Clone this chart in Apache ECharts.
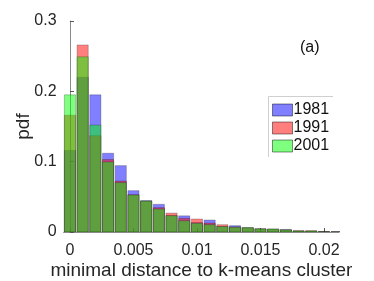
<!DOCTYPE html>
<html>
<head>
<meta charset="utf-8">
<script src="https://cdn.jsdelivr.net/npm/echarts@6/dist/echarts.min.js"></script>
<style>
html,body{margin:0;padding:0;background:#fff;}
#c{width:374px;height:281px;}
</style>
</head>
<body>
<div id="c"></div>
<script>
// bin centres (minimal distance to k-means cluster)
const binCenters = [0,0.001,0.002,0.003,0.004,0.005,0.006,0.007,0.008,0.009,0.010,0.011,0.012,0.013,0.014,0.015,0.016,0.017,0.018,0.019,0.020,0.021];
const pdf1981 = [0.116,0.220,0.195,0.112,0.0944,0.0588,0.0446,0.0394,0.0235,0.0230,0.0135,0.0171,0.0080,0.0090,0.0060,0.0045,0.0040,0.0034,0.0015,0.0012,0.0005,0.0003];
const pdf1991 = [0.166,0.266,0.137,0.103,0.0725,0.0530,0.0440,0.0346,0.0269,0.0195,0.0185,0.0128,0.0104,0.0072,0.0060,0.0045,0.0040,0.0030,0.0018,0.0018,0.0006,0.0003];
const pdf2001 = [0.195,0.249,0.152,0.0996,0.0702,0.0526,0.0440,0.0327,0.0232,0.0160,0.0124,0.0104,0.0078,0.0068,0.0062,0.0045,0.0043,0.0030,0.0015,0.0015,0.0004,0.0002];
const seriesNames = ['1981','1991','2001'];
const xTicks = [0,0.005,0.01,0.015,0.02];
const yTicks = [0,0.1,0.2,0.3];

const colors = ['rgba(0,0,255,0.5)','rgba(255,0,0,0.5)','rgba(0,255,0,0.5)'];
const halfWidth = 0.00044;
const txt = '#262626';
const font = 'Liberation Sans, Arial, Helvetica, sans-serif';

function makeSeries(name, vals, color){
  return {
    name: name,
    type: 'custom',
    clip: true,
    itemStyle: {color: color, borderColor: 'rgba(0,0,0,0.3)', borderWidth: 1},
    data: binCenters.map((x,i)=>[x, vals[i]]),
    renderItem: function(params, api){
      const x = api.value(0), y = api.value(1);
      const p0 = api.coord([x - halfWidth, y]);
      const p1 = api.coord([x + halfWidth, 0]);
      return {
        type: 'rect',
        shape: {x: p0[0], y: p0[1], width: p1[0]-p0[0], height: p1[1]-p0[1]},
        style: {fill: color, stroke: 'rgba(0,0,0,0.22)', lineWidth: 1}
      };
    }
  };
}

const chart = echarts.init(document.getElementById('c'), null, {renderer:'canvas'});
chart.setOption({
  animation: false,
  backgroundColor: '#fff',
  textStyle: {fontFamily: font},
  grid: {left: 63.6, top: 21, width: 275.6, height: 211, containLabel: false, outerBoundsMode: 'none'},
  xAxis: {
    type: 'value',
    min: -0.0005, max: 0.0212,
    name: 'minimal distance to k-means cluster',
    nameLocation: 'middle', nameGap: 29, nameMoveOverlap: false,
    nameTextStyle: {color: txt, fontSize: 19, fontFamily: font},
    axisLine: {show: true, lineStyle: {color: '#8a8a8a', width: 1}},
    axisTick: {show: true, inside: true, length: 4, lineStyle: {color: '#555'}, customValues: xTicks},
    axisLabel: {color: txt, fontSize: 16, fontFamily: font, margin: 11, customValues: xTicks,
      formatter: v => String(+v.toFixed(4))},
    splitLine: {show: false}
  },
  yAxis: {
    type: 'value',
    min: 0, max: 0.3, interval: 0.1,
    name: 'pdf',
    nameLocation: 'middle', nameGap: 30, nameRotate: 90, nameMoveOverlap: false,
    nameTextStyle: {color: txt, fontSize: 19, fontFamily: font},
    axisLine: {show: true, lineStyle: {color: '#8a8a8a', width: 1}},
    axisTick: {show: true, inside: true, length: 4, lineStyle: {color: '#555'}},
    axisLabel: {color: txt, fontSize: 16, fontFamily: font, margin: 7,
      formatter: v => String(+v.toFixed(2))},
    splitLine: {show: false}
  },
  legend: {
    orient: 'vertical',
    left: 268, top: 96,
    padding: [6, 4, 6, 4],
    itemWidth: 20, itemHeight: 12, itemGap: 2,
    icon: 'rect',
    borderWidth: 0,
    backgroundColor: '#fff',
    textStyle: {color: '#111', fontSize: 16, fontFamily: font, padding: [0,0,0,-4]},
    data: seriesNames.map((n,i)=>({name: n, itemStyle: {color: colors[i], borderColor: 'rgba(0,0,0,0.45)', borderWidth: 1}}))
  },
  graphic: [
    {type: 'polyline', shape: {points: [[268.5,157],[268.5,96.5],[333,96.5]]}, style: {stroke: '#cfcfcf', fill: null, lineWidth: 1}, z: 200},
    {type: 'text', left: 300, top: 40, style: {text: '(a)', fill: '#111', fontSize: 16, fontFamily: font}, z: 200}
  ],
  series: [
    makeSeries(seriesNames[0], pdf1981, colors[0]),
    makeSeries(seriesNames[1], pdf1991, colors[1]),
    makeSeries(seriesNames[2], pdf2001, colors[2])
  ]
});
</script>
</body>
</html>
